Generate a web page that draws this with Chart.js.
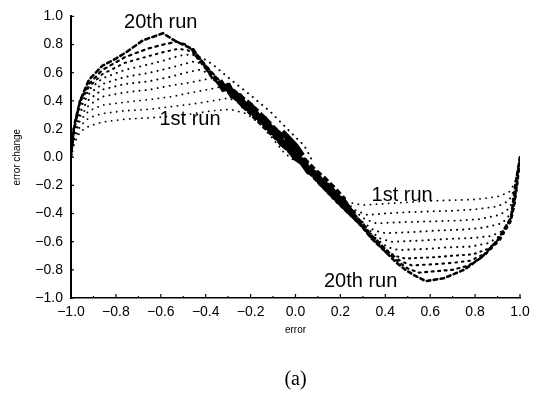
<!DOCTYPE html>
<html>
<head>
<meta charset="utf-8">
<script src="https://cdn.jsdelivr.net/npm/chart.js@4.4.1/dist/chart.umd.min.js"></script>
<style>
html,body{margin:0;padding:0;background:#fff;}
#wrap{width:546px;height:400px;}
</style>
</head>
<body>
<div id="wrap"><canvas id="c" width="546" height="400"></canvas></div>
<script>
// ---- data ----
const xTickLabels = ['\u22121.0','\u22120.8','\u22120.6','\u22120.4','\u22120.2','0.0','0.2','0.4','0.6','0.8','1.0'];
const yTickLabels = ['\u22121.0','\u22120.8','\u22120.6','\u22120.4','\u22120.2','0.0','0.2','0.4','0.6','0.8','1.0'];

const upperRun01 = [[-1,0],[-0.985,0.1],[-0.96,0.18],[-0.92,0.22],[-0.86,0.25],[-0.76,0.27],[-0.65,0.28],[-0.55,0.29],[-0.45,0.31],[-0.37,0.33],[-0.29,0.34],[-0.22,0.31],[-0.16,0.24],[-0.1,0.13],[-0.05,0.03],[0,-0.03]];
const upperRun03 = [[-1,0],[-0.985,0.12],[-0.96,0.22],[-0.92,0.28],[-0.86,0.31],[-0.76,0.33],[-0.65,0.34],[-0.55,0.36],[-0.45,0.38],[-0.37,0.40],[-0.3,0.42],[-0.25,0.39],[-0.19,0.31],[-0.12,0.19],[-0.05,0.07],[0,0]];
const upperRun05 = [[-1,0],[-0.985,0.14],[-0.96,0.26],[-0.92,0.33],[-0.86,0.37],[-0.76,0.39],[-0.65,0.41],[-0.55,0.43],[-0.46,0.46],[-0.39,0.48],[-0.33,0.50],[-0.28,0.45],[-0.22,0.36],[-0.14,0.23],[-0.06,0.09],[0,0]];
const upperRun07 = [[-1,0],[-0.985,0.16],[-0.96,0.29],[-0.92,0.37],[-0.86,0.43],[-0.76,0.46],[-0.65,0.48],[-0.55,0.51],[-0.47,0.53],[-0.41,0.55],[-0.37,0.56],[-0.32,0.5],[-0.26,0.41],[-0.18,0.29],[-0.09,0.14],[0,0]];
const upperRun09 = [[-1,0],[-0.985,0.18],[-0.96,0.32],[-0.92,0.41],[-0.86,0.48],[-0.76,0.52],[-0.65,0.54],[-0.56,0.57],[-0.49,0.6],[-0.43,0.62],[-0.39,0.6],[-0.34,0.53],[-0.28,0.44],[-0.2,0.32],[-0.1,0.16],[0,0]];
const upperRun11 = [[-1,0],[-0.985,0.2],[-0.96,0.35],[-0.92,0.45],[-0.86,0.52],[-0.76,0.57],[-0.65,0.6],[-0.57,0.63],[-0.5,0.66],[-0.45,0.68],[-0.41,0.66],[-0.38,0.58],[-0.33,0.5],[-0.25,0.39],[-0.15,0.24],[-0.06,0.1],[0,0]];
const upperRun13 = [[-1,0],[-0.985,0.21],[-0.96,0.37],[-0.92,0.48],[-0.86,0.56],[-0.76,0.62],[-0.65,0.66],[-0.58,0.69],[-0.52,0.72],[-0.47,0.73],[-0.42,0.71],[-0.37,0.66],[-0.28,0.54],[-0.2,0.44],[-0.11,0.32],[-0.03,0.19],[0.04,0.08],[0.08,-0.04]];
const upperRun15 = [[-1,0],[-0.985,0.22],[-0.96,0.39],[-0.92,0.5],[-0.86,0.59],[-0.76,0.67],[-0.65,0.72],[-0.58,0.75],[-0.52,0.77],[-0.48,0.76],[-0.44,0.72],[-0.4,0.65],[-0.35,0.56],[-0.29,0.46],[-0.2,0.33],[-0.1,0.17],[0,0]];
const upperRun17 = [[-1,0],[-0.985,0.24],[-0.96,0.4],[-0.92,0.52],[-0.86,0.62],[-0.76,0.71],[-0.66,0.77],[-0.59,0.8],[-0.53,0.82],[-0.49,0.8],[-0.45,0.75],[-0.41,0.67],[-0.36,0.58],[-0.3,0.48],[-0.22,0.36],[-0.12,0.2],[0,0]];
const upperRun20 = [[-1,0],[-0.99,0.17],[-0.96,0.4],[-0.92,0.55],[-0.86,0.65],[-0.8,0.7],[-0.75,0.75],[-0.68,0.83],[-0.59,0.88],[-0.53,0.82],[-0.46,0.77],[-0.41,0.66],[-0.37,0.56],[-0.3,0.47],[-0.245,0.38],[-0.15,0.24],[-0.08,0.12],[0,0]];

const lowerRun01 = [[1,0],[0.99,-0.1],[0.975,-0.19],[0.95,-0.25],[0.9,-0.28],[0.8,-0.3],[0.7,-0.305],[0.6,-0.31],[0.5,-0.32],[0.4,-0.33],[0.3,-0.34],[0.23,-0.32],[0.17,-0.25],[0.11,-0.15],[0.06,-0.05],[0.02,0.03]];
const lowerRun03 = [[1,0],[0.99,-0.12],[0.975,-0.23],[0.95,-0.31],[0.9,-0.35],[0.8,-0.37],[0.7,-0.38],[0.6,-0.385],[0.5,-0.39],[0.4,-0.4],[0.32,-0.41],[0.27,-0.38],[0.21,-0.3],[0.14,-0.2],[0.07,-0.09],[0,0]];
const lowerRun05 = [[1,0],[0.99,-0.13],[0.975,-0.26],[0.955,-0.36],[0.91,-0.41],[0.82,-0.44],[0.72,-0.45],[0.62,-0.455],[0.5,-0.46],[0.42,-0.465],[0.36,-0.47],[0.31,-0.44],[0.25,-0.37],[0.17,-0.26],[0.08,-0.12],[0,0]];
const lowerRun07 = [[1,0],[0.99,-0.14],[0.975,-0.28],[0.96,-0.4],[0.92,-0.47],[0.84,-0.5],[0.74,-0.515],[0.64,-0.52],[0.54,-0.53],[0.46,-0.535],[0.4,-0.54],[0.35,-0.52],[0.29,-0.45],[0.2,-0.32],[0.1,-0.16],[0,0]];
const lowerRun09 = [[1,0],[0.99,-0.14],[0.975,-0.3],[0.96,-0.43],[0.93,-0.52],[0.87,-0.56],[0.78,-0.575],[0.68,-0.58],[0.58,-0.59],[0.5,-0.595],[0.43,-0.6],[0.38,-0.58],[0.33,-0.52],[0.26,-0.42],[0.18,-0.3],[0.09,-0.15],[0,0]];
const lowerRun11 = [[1,0],[0.99,-0.15],[0.975,-0.31],[0.96,-0.44],[0.92,-0.55],[0.86,-0.61],[0.78,-0.635],[0.68,-0.64],[0.6,-0.65],[0.52,-0.655],[0.46,-0.66],[0.41,-0.64],[0.36,-0.58],[0.3,-0.49],[0.22,-0.37],[0.12,-0.21],[0,0]];
const lowerRun13 = [[1,0],[0.99,-0.15],[0.975,-0.32],[0.96,-0.45],[0.915,-0.57],[0.86,-0.65],[0.79,-0.69],[0.7,-0.7],[0.62,-0.71],[0.55,-0.715],[0.49,-0.72],[0.44,-0.7],[0.39,-0.64],[0.33,-0.55],[0.25,-0.42],[0.14,-0.24],[0,0]];
const lowerRun15 = [[1,0],[0.99,-0.16],[0.975,-0.33],[0.96,-0.45],[0.91,-0.59],[0.85,-0.68],[0.78,-0.735],[0.7,-0.75],[0.62,-0.76],[0.56,-0.765],[0.52,-0.77],[0.47,-0.74],[0.42,-0.68],[0.36,-0.6],[0.28,-0.47],[0.17,-0.3],[0.08,-0.14],[0,0]];
const lowerRun17 = [[1,0],[0.99,-0.17],[0.975,-0.34],[0.96,-0.45],[0.9,-0.6],[0.84,-0.7],[0.77,-0.77],[0.7,-0.8],[0.62,-0.81],[0.55,-0.82],[0.5,-0.79],[0.455,-0.74],[0.4,-0.66],[0.34,-0.57],[0.27,-0.45],[0.18,-0.31],[0.09,-0.16],[0,0]];
const lowerRun20 = [[1,0],[0.98,-0.19],[0.96,-0.43],[0.9,-0.59],[0.83,-0.71],[0.75,-0.8],[0.66,-0.86],[0.58,-0.88],[0.53,-0.84],[0.49,-0.8],[0.45,-0.75],[0.4,-0.67],[0.34,-0.58],[0.29,-0.48],[0.2,-0.34],[0.1,-0.18],[0,0]];

// dense converged band through the origin (jagged)
const bandCore = [[-0.34,0.54],[-0.32,0.49],[-0.3,0.5],[-0.28,0.44],[-0.25,0.43],[-0.23,0.37],[-0.2,0.36],[-0.17,0.29],[-0.14,0.27],[-0.11,0.2],[-0.08,0.17],[-0.06,0.1],[-0.03,0.07],[0.0,0.0],[0.03,-0.03],[0.06,-0.1],[0.09,-0.12],[0.12,-0.19],[0.15,-0.21],[0.18,-0.28],[0.21,-0.31],[0.24,-0.38],[0.26,-0.41]];
const bandSpread = [[-0.31,0.52],[-0.26,0.45],[-0.21,0.39],[-0.17,0.33],[-0.12,0.25],[0.08,-0.08],[0.13,-0.15],[0.18,-0.23],[0.22,-0.3]];
const centreBulge = [[-0.06,0.18],[-0.03,0.13],[0.0,0.08],[0.03,0.01]];
const bandOuter = [[-0.46,0.77],[-0.44,0.72],[-0.41,0.66],[-0.38,0.6],[-0.34,0.53],[0.26,-0.41],[0.3,-0.48],[0.33,-0.55],[0.37,-0.61],[0.41,-0.68]];

const runLabels = ['20th run','1st run','1st run','20th run'];
const runLabelAt = [[-0.6,0.958],[-0.47,0.265],[0.475,-0.272],[0.29,-0.88]];
const caption = '(a)';

// ---- styles ----
function dots(w){return {borderWidth:w,borderDash:[0.1,6],borderCapStyle:'round'};}
function dashes(w,d,g){return {borderWidth:w,borderDash:[d,g],borderCapStyle:'round'};}
const toXY = a => a.map(p => ({x:p[0], y:p[1]}));

const series = [
  [upperRun01,dots(1.8)],[upperRun03,dots(1.8)],[upperRun05,dots(1.8)],[upperRun07,dots(1.9)],
  [upperRun09,dots(2)],[upperRun11,dots(2)],[upperRun13,dots(2)],[upperRun15,dashes(2,1.5,5)],
  [upperRun17,dashes(2.2,2.5,4.5)],[upperRun20,dashes(2.6,4,3.5)],
  [lowerRun01,dots(1.8)],[lowerRun03,dots(1.9)],[lowerRun05,dots(1.9)],[lowerRun07,dots(2)],
  [lowerRun09,dots(2)],[lowerRun11,dots(2.1)],[lowerRun13,dashes(2.1,1,5)],[lowerRun15,dashes(2.1,1.5,5)],
  [lowerRun17,dashes(2.2,2,4.5)],[lowerRun20,dashes(2.6,3.5,3.5)]
];

const datasets = series.map(([d,st]) => Object.assign({
  data: toXY(d), showLine:true, pointRadius:0, borderColor:'#000', fill:false, tension:0
}, st));
datasets.push({data:toXY(bandOuter), showLine:true, pointRadius:0, borderColor:'#000', borderWidth:4, borderDash:[5,2], tension:0});
datasets.push({data:toXY(bandCore), showLine:true, pointRadius:0, borderColor:'#000', borderWidth:7, borderJoinStyle:'miter', tension:0});
datasets.push({data:toXY(bandSpread), showLine:true, pointRadius:0, borderColor:'#000', borderWidth:4, borderDash:[6,3], tension:0, spanGaps:true});
datasets.push({data:toXY(centreBulge), showLine:true, pointRadius:0, borderColor:'#000', borderWidth:6, tension:0});

const innerTicks = {
  id:'innerTicks',
  afterDraw(chart){
    const ctx = chart.ctx, xs = chart.scales.x, ys = chart.scales.y;
    ctx.save(); ctx.strokeStyle='#000'; ctx.lineWidth=1.2;
    const yb = ys.getPixelForValue(-1), xl = xs.getPixelForValue(-1);
    xTickLabels.forEach((t,i)=>{
      const v = -1 + i*0.2;
      const px = xs.getPixelForValue(v);
      ctx.beginPath(); ctx.moveTo(px,yb); ctx.lineTo(px,yb-4); ctx.stroke();
      if (i < xTickLabels.length-1){
        const pm = xs.getPixelForValue(v+0.1);
        ctx.beginPath(); ctx.moveTo(pm,yb); ctx.lineTo(pm,yb-2); ctx.stroke();
      }
    });
    yTickLabels.forEach((t,i)=>{
      const py = ys.getPixelForValue(-1 + i*0.2);
      ctx.beginPath(); ctx.moveTo(xl,py); ctx.lineTo(xl+3,py); ctx.stroke();
    });
    // run labels
    ctx.fillStyle='#000'; ctx.font='20px "Liberation Sans", Arial, sans-serif';
    ctx.textAlign='center'; ctx.textBaseline='middle';
    runLabels.forEach((t,i)=>{
      ctx.fillText(t, xs.getPixelForValue(runLabelAt[i][0]), ys.getPixelForValue(runLabelAt[i][1]));
    });
    // caption
    ctx.font='20px "Liberation Serif", "DejaVu Serif", serif';
    ctx.fillText(caption, (chart.chartArea.left + chart.chartArea.right)/2, 380);
    ctx.restore();
  }
};

new Chart(document.getElementById('c'), {
  type:'scatter',
  data:{datasets},
  options:{
    responsive:false, animation:false, events:[],
    layout:{padding:{left:0,top:15,right:26,bottom:52}},
    plugins:{ legend:{display:false}, tooltip:{enabled:false}, title:{display:false} },
    scales:{
      x:{type:'linear', min:-1, max:1,
        ticks:{stepSize:0.2, color:'#000', padding:6, maxRotation:0, autoSkip:false,
          font:{family:'"Liberation Sans", Arial, sans-serif', size:14},
          callback:(v,i)=>xTickLabels[i]},
        grid:{display:true, drawOnChartArea:false, drawTicks:false, color:'rgba(0,0,0,0)'},
        border:{display:true, color:'#000', width:1.6},
        title:{display:true, text:'error', color:'#000', font:{family:'"Liberation Sans", Arial, sans-serif', size:10, lineHeight:1.2}, padding:{top:0,bottom:12}},
        afterFit:s=>{s.height=50;}
      },
      y:{type:'linear', min:-1, max:1,
        ticks:{stepSize:0.2, color:'#000', padding:8, autoSkip:false,
          font:{family:'"Liberation Sans", Arial, sans-serif', size:14},
          callback:(v,i)=>yTickLabels[i]},
        grid:{display:true, drawOnChartArea:false, drawTicks:false, color:'rgba(0,0,0,0)'},
        border:{display:true, color:'#000', width:2},
        title:{display:true, text:'error change', color:'#000', font:{family:'"Liberation Sans", Arial, sans-serif', size:10, lineHeight:1.2}, padding:{top:11,bottom:0}},
        afterFit:s=>{s.width=71;}
      }
    }
  },
  plugins:[innerTicks]
});
</script>
</body>
</html>
